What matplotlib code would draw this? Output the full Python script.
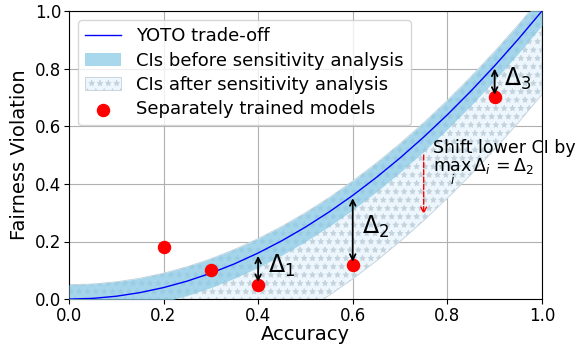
import numpy as np
import matplotlib.pyplot as plt

# YOTO curve (accuracy vs fairness violation)
acc = [0.0, 0.05, 0.1, 0.15, 0.2, 0.25, 0.3, 0.35, 0.4, 0.45, 0.5,
       0.55, 0.6, 0.65, 0.7, 0.75, 0.8, 0.85, 0.9, 0.95, 1.0]
yoto = [0.0, 0.0025, 0.01, 0.0225, 0.04, 0.0625, 0.09, 0.1225, 0.16, 0.2025, 0.25,
        0.3025, 0.36, 0.4225, 0.49, 0.5625, 0.64, 0.7225, 0.81, 0.9025, 1.0]
ci_half = 0.05   # half-width of the CI band before sensitivity analysis

# separately trained models
sep_acc = [0.2, 0.3, 0.4, 0.6, 0.9]
sep_fv = [0.18, 0.10, 0.05, 0.12, 0.70]

# gaps shown with arrows: (x, curve value, model value, label)
deltas = [(0.4, 0.16, 0.05, r'$\Delta_1$'),
          (0.6, 0.36, 0.12, r'$\Delta_2$'),
          (0.9, 0.81, 0.70, r'$\Delta_3$')]
shift = 0.24  # max delta (Delta_2)

acc = np.array(acc)
yoto = np.array(yoto)
upper = yoto + ci_half
lower = yoto - ci_half
lower_after = yoto - ci_half - shift

plt.rcParams['hatch.color'] = '#c8d6e0'
plt.rcParams['hatch.linewidth'] = 0.5

fig = plt.figure(figsize=(5.84, 3.45), dpi=100)
ax = fig.add_axes([0.118, 0.133, 0.81, 0.835])

ax.fill_between(acc, lower_after, upper, facecolor='#ecf6fc', edgecolor='#c3d2dc',
                hatch='**', linewidth=0.6, label='CIs after sensitivity analysis', zorder=2)
ax.fill_between(acc, lower, upper, color='#8ccbe6', alpha=0.75, linewidth=0,
                label='CIs before sensitivity analysis', zorder=3)
ax.plot(acc, yoto, color='blue', lw=1, label='YOTO trade-off', zorder=4)
ax.scatter(sep_acc, sep_fv, s=75, color='red', label='Separately trained models', zorder=6)

for x, top, bot, lab in deltas:
    ax.annotate('', xy=(x, bot), xytext=(x, top),
                arrowprops=dict(arrowstyle='<->', color='black', lw=1.3), zorder=7)
    ax.text(x + 0.02, (top + bot) / 2 + 0.01, lab, fontsize=17, va='center', ha='left')

ax.annotate('', xy=(0.75, 0.285), xytext=(0.75, 0.51),
            arrowprops=dict(arrowstyle='->', color='red', lw=1, linestyle='--'), zorder=7)
ax.text(0.77, 0.555, 'Shift lower CI by\n' + r'$\max_i\,\Delta_i = \Delta_2$',
        fontsize=12.5, va='top', ha='left', linespacing=1.0)

ax.set_xlim(0, 1)
ax.set_ylim(0, 1)
ax.set_xticks([0, 0.2, 0.4, 0.6, 0.8, 1.0])
ax.set_yticks([0, 0.2, 0.4, 0.6, 0.8, 1.0])
ax.tick_params(labelsize=12, pad=2)
ax.grid(True, color='#b0b0b0', lw=0.8)
ax.set_axisbelow(True)
ax.set_xlabel('Accuracy', fontsize=14, labelpad=0)
ax.set_ylabel('Fairness Violation', fontsize=14, labelpad=4)

h, l = ax.get_legend_handles_labels()
order = [l.index('YOTO trade-off'), l.index('CIs before sensitivity analysis'),
         l.index('CIs after sensitivity analysis'), l.index('Separately trained models')]
ax.legend([h[i] for i in order], [l[i] for i in order], loc='upper left',
          fontsize=13, handlelength=2, borderpad=0.4, labelspacing=0.35)

fig.savefig('out.png', dpi=100)
